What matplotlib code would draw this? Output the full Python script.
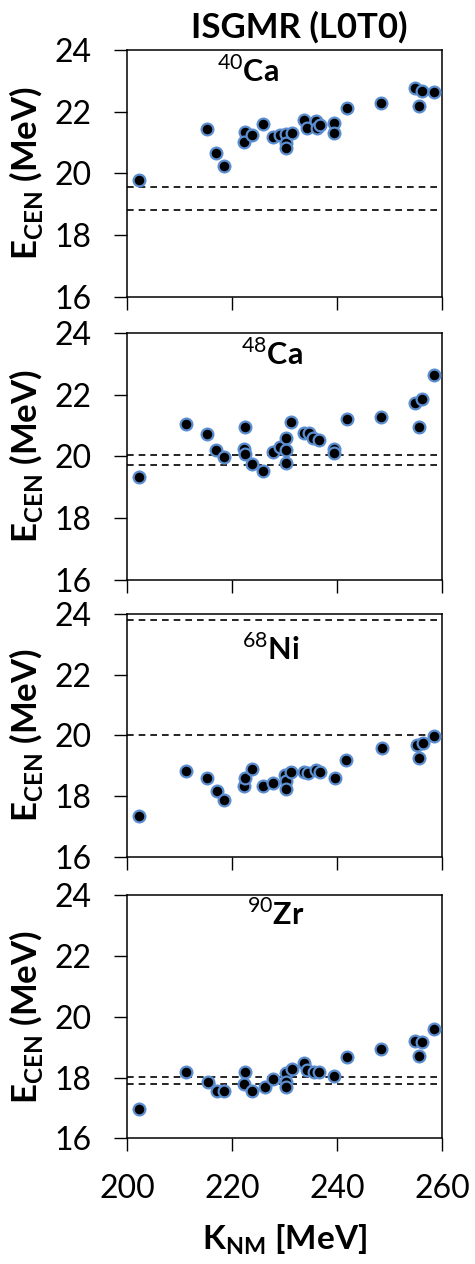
import matplotlib.pyplot as plt

plt.rcParams['font.family'] = ['Lato', 'DejaVu Sans']
plt.rcParams['mathtext.fontset'] = 'custom'
plt.rcParams['mathtext.rm'] = 'Lato'
plt.rcParams['mathtext.bf'] = 'Lato:bold'

# K_NM [MeV] and E_CEN [MeV], one set per nucleus
k_ca40 = [202.2, 215.2, 217.0, 218.5, 222.5, 222.3, 223.9, 226.0, 227.8, 229.1,
          230.3, 230.3, 230.3, 231.4, 233.7, 234.3, 236.1, 236.2, 236.8, 239.4,
          239.4, 241.9, 248.3, 254.9, 256.2, 255.6, 258.4]
e_ca40 = [19.78, 21.43, 20.67, 20.25, 21.35, 21.00, 21.24, 21.59, 21.19, 21.24,
          21.26, 20.97, 20.81, 21.30, 21.73, 21.48, 21.71, 21.48, 21.55, 21.62,
          21.30, 22.11, 22.29, 22.76, 22.68, 22.19, 22.63]

k_ca48 = [202.2, 211.3, 215.2, 217.0, 218.5, 222.5, 222.3, 222.5, 223.9, 226.0,
          227.8, 229.1, 230.2, 230.3, 230.3, 231.2, 233.7, 234.6, 235.4, 236.5,
          239.4, 239.4, 241.9, 248.3, 254.9, 256.2, 255.6, 258.4]
e_ca48 = [19.34, 21.04, 20.71, 20.20, 19.99, 20.94, 20.24, 20.07, 19.75, 19.53,
          20.15, 20.31, 20.60, 20.20, 19.77, 21.12, 20.74, 20.77, 20.58, 20.53,
          20.23, 20.12, 21.20, 21.28, 21.74, 21.84, 20.96, 22.63]

k_ni68 = [202.2, 211.2, 215.3, 217.1, 218.5, 222.3, 222.5, 223.8, 226.0, 227.9,
          230.1, 230.3, 230.3, 231.3, 233.7, 234.5, 236.1, 236.7, 239.6, 241.8,
          248.5, 255.2, 256.3, 255.6, 258.5]
e_ni68 = [17.34, 18.84, 18.60, 18.18, 17.87, 18.34, 18.58, 18.88, 18.34, 18.44,
          18.69, 18.49, 18.22, 18.80, 18.80, 18.76, 18.86, 18.80, 18.60, 19.19,
          19.57, 19.68, 19.74, 19.25, 19.99]

k_zr90 = [202.2, 211.3, 215.4, 217.1, 218.5, 222.5, 222.3, 223.9, 226.2, 227.9,
          230.3, 230.3, 230.3, 231.4, 233.7, 234.3, 235.6, 236.5, 239.4, 241.9,
          248.3, 254.9, 256.2, 255.6, 258.4]
e_zr90 = [16.95, 18.17, 17.86, 17.57, 17.57, 18.19, 17.79, 17.56, 17.68, 17.95,
          18.14, 17.86, 17.68, 18.28, 18.47, 18.25, 18.19, 18.19, 18.06, 18.68,
          18.94, 19.21, 19.17, 18.72, 19.58]

# experimental bounds (dashed lines)
exp_ca40 = [19.57, 18.81]
exp_ca48 = [20.04, 19.72]
exp_ni68 = [23.82, 20.0]
exp_zr90 = [18.03, 17.79]

nuclei = [r'$^{40}$Ca', r'$^{48}$Ca', r'$^{68}$Ni', r'$^{90}$Zr']
label_pos = [(223.0, 23.3), (227.6, 23.3), (227.4, 22.85), (228.3, 23.35)]
yticks = [16, 18, 20, 22, 24]
xticks = [200, 220, 240, 260]

panels = [(k_ca40, e_ca40, exp_ca40), (k_ca48, e_ca48, exp_ca48),
          (k_ni68, e_ni68, exp_ni68), (k_zr90, e_zr90, exp_zr90)]

# axes boxes in figure fractions [left, bottom, width, height]
boxes = [[0.2674, 0.7653, 0.663, 0.1952],
         [0.2674, 0.5411, 0.663, 0.1957],
         [0.2674, 0.3222, 0.663, 0.1920],
         [0.2674, 0.0994, 0.663, 0.1925]]

fig = plt.figure(figsize=(4.75, 12.64), dpi=100)

for i, (k, e, exp) in enumerate(panels):
    ax = fig.add_axes(boxes[i])
    for yv in exp:
        ax.axhline(yv, color='black', lw=1.2, ls=(0, (4, 3)), zorder=1)
    ax.scatter(k, e, s=72, c='black', edgecolors='#5b8ed0', linewidths=1.6,
               zorder=3, clip_on=False)
    ax.set_xlim(200, 260)
    ax.set_ylim(16, 24)
    ax.set_xticks(xticks)
    ax.set_yticks(yticks)
    ax.tick_params(direction='out', length=9.5, width=1, labelsize=23, pad=16)
    for sp in ax.spines.values():
        sp.set_linewidth(1.1)
    if i < 3:
        ax.set_xticklabels([])
    else:
        ax.set_xlabel(r'K$_{\mathbf{NM}}$ [MeV]', fontsize=24, fontweight='bold',
                      labelpad=13)
    ax.set_ylabel(r'E$_{\mathbf{CEN}}$ (MeV)', fontsize=25, fontweight='bold',
                  labelpad=7)
    ax.text(label_pos[i][0], label_pos[i][1], nuclei[i], fontsize=22,
            fontweight='bold', ha='center', va='center')

fig.text(0.63, 0.9786, 'ISGMR (L0T0)', fontsize=25, fontweight='bold',
         ha='center', va='center')

fig.savefig('out.png', dpi=100)
